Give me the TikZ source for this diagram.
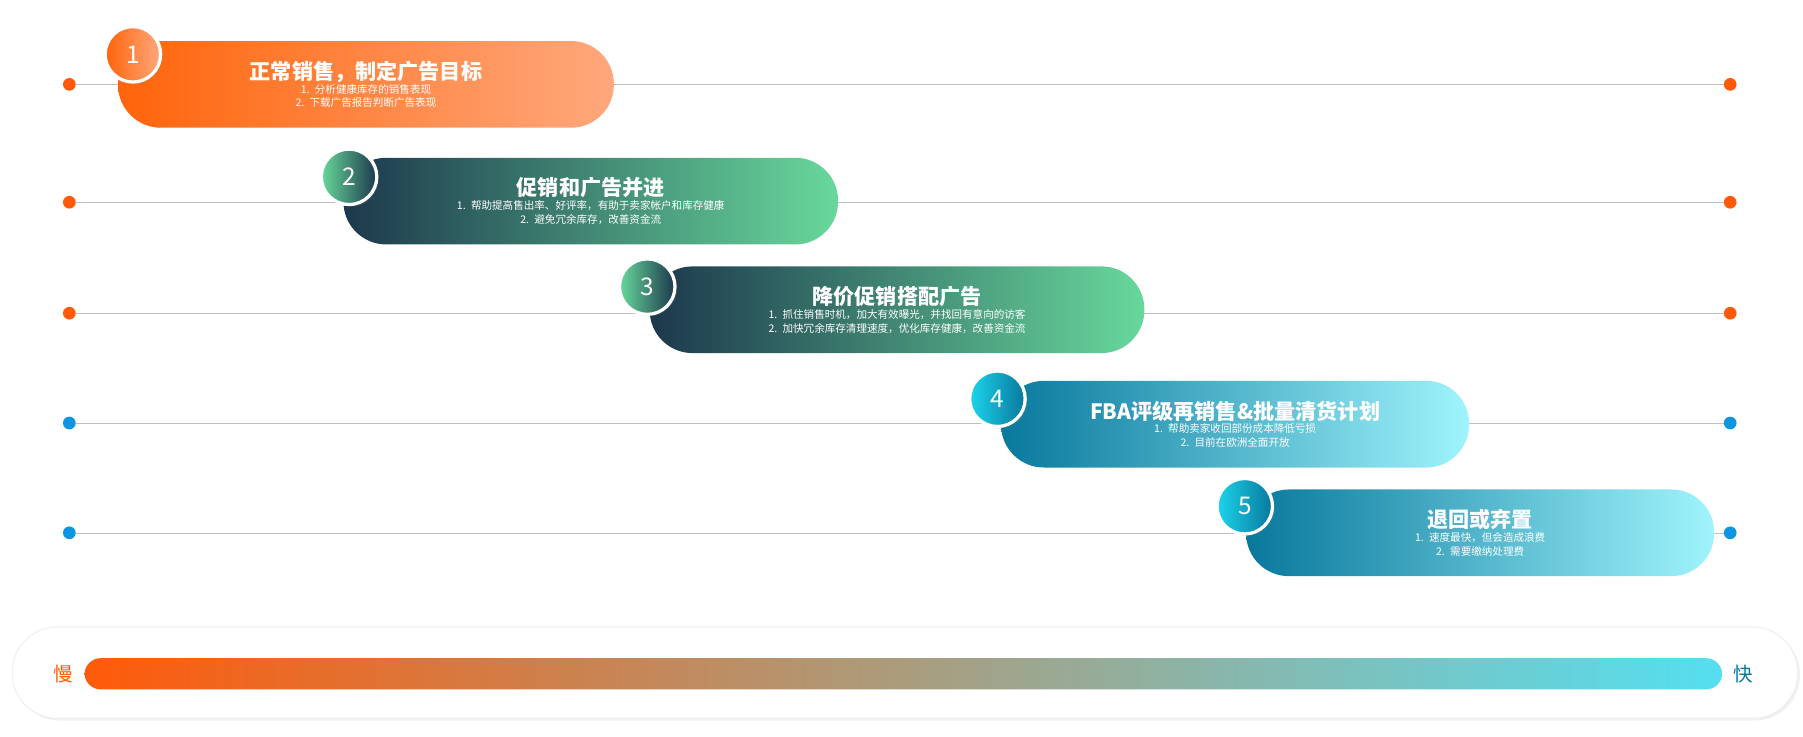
\documentclass[tikz,border=0pt]{standalone}
\usepackage{fontspec}
\setmainfont{Noto Sans CJK SC}
\usetikzlibrary{positioning,shadows}
\definecolor{orgdark}{RGB}{255,100,10}
\definecolor{orglight}{RGB}{255,168,125}
\definecolor{tealdark}{RGB}{28,56,76}
\definecolor{tealmid}{RGB}{8,134,134}
\definecolor{teallight}{RGB}{104,216,156}
\definecolor{cyandark}{RGB}{8,120,156}
\definecolor{cyanmid}{RGB}{28,212,236}
\definecolor{cyanlight}{RGB}{160,244,252}
\definecolor{dotorg}{RGB}{255,90,10}
\definecolor{dotblue}{RGB}{12,150,226}
\definecolor{linegray}{RGB}{190,190,196}
\newcommand{\steptitle}{\fontsize{26}{32}\selectfont\bfseries}
\begin{document}
\begin{tikzpicture}[x=0.05cm,y=-0.05cm]
    \tikzstyle{pill} = [rectangle, rounded corners=1.85cm, minimum height=3.75cm, inner sep=0pt, text=white, align=center, font=\fontsize{13}{17}\selectfont, anchor=west]
    \tikzstyle{badge} = [circle, draw=white, line width=4pt, minimum size=2.4cm, inner sep=0pt, text=white, font=\fontsize{30}{30}\selectfont, drop shadow={opacity=0.15}]
    \tikzstyle{dot} = [circle, inner sep=0pt, minimum size=0.55cm]
    \useasboundingbox (0,0) rectangle (1560,637);

    % guide lines with end dots
    \foreach \y/\c [count=\i] in {73/dotorg,175/dotorg,271/dotorg,366/dotblue,461/dotblue} {
        \node [dot, fill=\c] (l\i) at (60,\y) {};
        \node [dot, fill=\c] (r\i) at (1497,\y) {};
        \draw [linegray, line width=0.7pt] (l\i) -- (r\i);
    }

    % steps
    \node [pill, minimum width=21.45cm, left color=orgdark, right color=orglight] (s1) at (102,73)
        {{\steptitle 正常销售，制定广告目标}\\1.\enspace 分析健康库存的销售表现\\2.\enspace 下载广告报告判断广告表现};
    \node [badge, left color=orgdark, right color=orglight] (b1) at (115,47) {1};

    \node [pill, minimum width=21.4cm, left color=tealdark, middle color=tealmid, right color=teallight] (s2) at (297,174)
        {{\steptitle 促销和广告并进}\\1.\enspace 帮助提高售出率、好评率，有助于卖家帐户和库存健康\\2.\enspace 避免冗余库存，改善资金流};
    \node [badge, left color=teallight, right color=tealdark] (b2) at (302,153) {2};

    \node [pill, minimum width=21.4cm, left color=tealdark, middle color=tealmid, right color=teallight] (s3) at (562,268)
        {{\steptitle 降价促销搭配广告}\\1.\enspace 抓住销售时机，加大有效曝光，并找回有意向的访客\\2.\enspace 加快冗余库存清理速度，优化库存健康，改善资金流};
    \node [badge, left color=teallight, right color=tealdark] (b3) at (560,248) {3};

    \node [pill, minimum width=20.25cm, left color=cyandark, middle color=cyanmid, right color=cyanlight] (s4) at (866,367)
        {{\steptitle FBA评级再销售\&批量清货计划}\\1.\enspace 帮助卖家收回部份成本降低亏损\\2.\enspace 目前在欧洲全面开放};
    \node [badge, left color=cyanmid, right color=cyandark] (b4) at (863,345) {4};

    \node [pill, minimum width=20.25cm, left color=cyandark, middle color=cyanmid, right color=cyanlight] (s5) at (1078,461)
        {{\steptitle 退回或弃置}\\1.\enspace 速度最快，但会造成浪费\\2.\enspace 需要缴纳处理费};
    \node [badge, left color=cyanmid, right color=cyandark] (b5) at (1077,438) {5};

    % speed scale
    \node [rectangle, rounded corners=1.95cm, minimum width=77.25cm, minimum height=3.95cm, fill=white, draw=gray!12, line width=1.5pt, drop shadow={opacity=0.12}, anchor=west] (frame) at (10,582) {};
    \node [rectangle, rounded corners=0.7cm, minimum width=70.85cm, minimum height=1.35cm, inner sep=0pt, left color=dotorg, middle color=orglight!60!cyanmid, right color=cyanmid!75!white, anchor=west] (bar) at (73,583) {};
    \node [text=dotorg, font=\fontsize{24}{24}\selectfont, left=0.35cm of bar] (slow) {慢};
    \node [text=cyandark, font=\fontsize{24}{24}\selectfont, right=0.35cm of bar] (fast) {快};
\end{tikzpicture}
\end{document}
